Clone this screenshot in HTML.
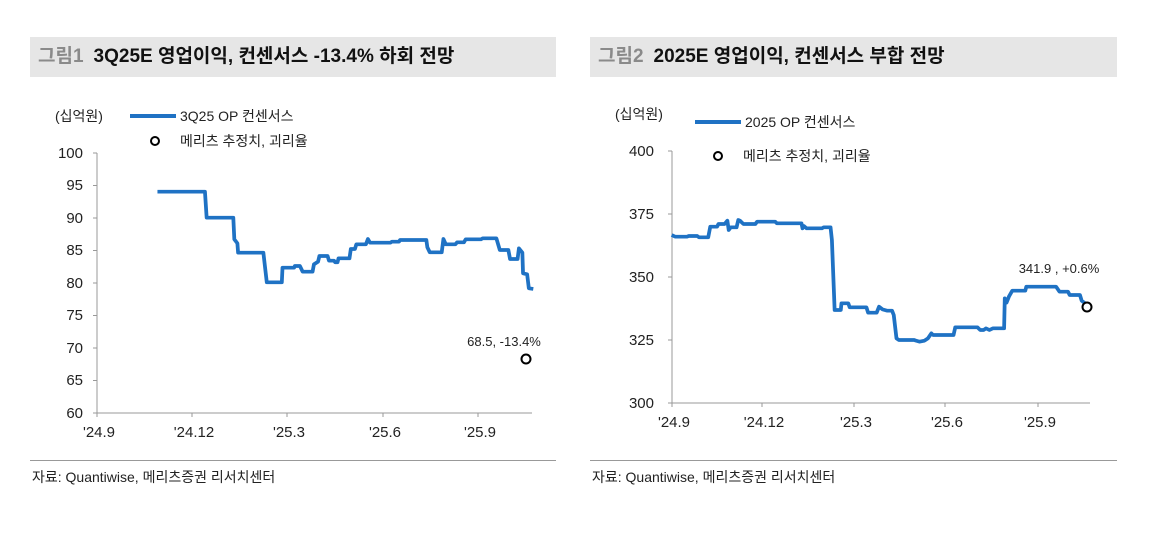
<!DOCTYPE html>
<html><head><meta charset="utf-8"><style>
html,body{margin:0;padding:0;background:#fff;}
body{width:1159px;height:557px;position:relative;overflow:hidden;font-family:"Liberation Sans","Noto Sans CJK KR",sans-serif;}
.hdr{position:absolute;top:37px;height:40px;background:#e6e6e6;font-size:19px;font-weight:bold;line-height:40px;color:#111;padding-left:8px;box-sizing:border-box;}
.hdr span{color:#8a8a8a;margin-right:10px;}
.src{position:absolute;top:467px;font-size:14px;color:#222;}
.rule{position:absolute;top:460px;height:1px;background:#999;}
svg text{font-family:"Liberation Sans","Noto Sans CJK KR",sans-serif;fill:#222;}
</style></head><body>
<div class="hdr" style="left:30px;width:526px;"><span>그림1</span>3Q25E 영업이익, 컨센서스 -13.4% 하회 전망</div>
<div class="hdr" style="left:590px;width:527px;"><span>그림2</span>2025E 영업이익, 컨센서스 부합 전망</div>
<div class="rule" style="left:30px;width:526px;"></div>
<div class="rule" style="left:590px;width:527px;"></div>
<div class="src" style="left:32px;">자료: Quantiwise, 메리츠증권 리서치센터</div>
<div class="src" style="left:592px;">자료: Quantiwise, 메리츠증권 리서치센터</div>
<svg width="1159" height="557" style="position:absolute;left:0;top:0">
<!-- left chart -->
<text x="55" y="121" font-size="14">(십억원)</text>
<line x1="130" y1="116" x2="176" y2="116" stroke="#1f72c4" stroke-width="4"/>
<text x="180" y="121" font-size="14">3Q25 OP 컨센서스</text>
<circle cx="155" cy="141" r="4" fill="none" stroke="#000" stroke-width="2"/>
<text x="180" y="146" font-size="14">메리츠 추정치, 괴리율</text>
<g stroke="#999" stroke-width="1">
<line x1="97" y1="153" x2="97" y2="413"/><line x1="97" y1="413" x2="532" y2="413"/>
<line x1="93" y1="153" x2="97" y2="153"/><line x1="93" y1="185.5" x2="97" y2="185.5"/><line x1="93" y1="218" x2="97" y2="218"/><line x1="93" y1="250.5" x2="97" y2="250.5"/><line x1="93" y1="283" x2="97" y2="283"/><line x1="93" y1="315.5" x2="97" y2="315.5"/><line x1="93" y1="348" x2="97" y2="348"/><line x1="93" y1="380.5" x2="97" y2="380.5"/><line x1="93" y1="413" x2="97" y2="413"/>
<line x1="97" y1="413" x2="97" y2="417"/><line x1="192" y1="413" x2="192" y2="417"/><line x1="287" y1="413" x2="287" y2="417"/><line x1="383" y1="413" x2="383" y2="417"/><line x1="478" y1="413" x2="478" y2="417"/>
</g>
<g font-size="15" text-anchor="end">
<text x="83" y="158">100</text><text x="83" y="190">95</text><text x="83" y="223">90</text><text x="83" y="255">85</text><text x="83" y="288">80</text><text x="83" y="320">75</text><text x="83" y="353">70</text><text x="83" y="385">65</text><text x="83" y="418">60</text>
</g>
<g font-size="15" text-anchor="middle">
<text x="99" y="437">'24.9</text><text x="194" y="437">'24.12</text><text x="289" y="437">'25.3</text><text x="385" y="437">'25.6</text><text x="480" y="437">'25.9</text>
</g>
<g transform="translate(28.3,140) scale(0.34167,0.33333)">
<polyline fill="none" stroke="#1f72c4" stroke-width="11" stroke-linejoin="round" points="378,155 517,155 522,233 600,233 603,298 612,310 614,338 688,338 698,427 742,427 744,383 778,383 780,378 795,378 803,395 832,395 836,373 848,365 852,348 876,348 880,362 895,362 898,367 905,367 908,355 940,355 944,327 956,327 960,313 988,313 994,297 1000,308 1060,308 1064,305 1085,305 1088,300 1165,300 1168,322 1175,337 1210,337 1215,297 1222,313 1250,313 1255,307 1275,307 1280,298 1325,298 1330,295 1370,295 1380,330 1405,330 1410,357 1432,357 1436,325 1446,338 1448,400 1460,403 1465,445 1478,447"/>
</g>
<text x="504" y="346" font-size="13" text-anchor="middle">68.5, -13.4%</text>
<circle cx="526" cy="359" r="4.5" fill="#fff" stroke="#000" stroke-width="2"/>

<!-- right chart -->
<text x="615" y="119" font-size="14">(십억원)</text>
<line x1="695" y1="122" x2="741" y2="122" stroke="#1f72c4" stroke-width="4"/>
<text x="745" y="127" font-size="14">2025 OP 컨센서스</text>
<circle cx="718" cy="156" r="4" fill="none" stroke="#000" stroke-width="2"/>
<text x="743" y="161" font-size="14">메리츠 추정치, 괴리율</text>
<g stroke="#999" stroke-width="1">
<line x1="672" y1="151" x2="672" y2="403"/><line x1="672" y1="403" x2="1090" y2="403"/>
<line x1="668" y1="151" x2="672" y2="151"/><line x1="668" y1="214" x2="672" y2="214"/><line x1="668" y1="277" x2="672" y2="277"/><line x1="668" y1="340" x2="672" y2="340"/><line x1="668" y1="403" x2="672" y2="403"/>
<line x1="672" y1="403" x2="672" y2="407"/><line x1="762" y1="403" x2="762" y2="407"/><line x1="854" y1="403" x2="854" y2="407"/><line x1="945" y1="403" x2="945" y2="407"/><line x1="1038" y1="403" x2="1038" y2="407"/>
</g>
<g font-size="15" text-anchor="end">
<text x="654" y="156">400</text><text x="654" y="219">375</text><text x="654" y="282">350</text><text x="654" y="345">325</text><text x="654" y="408">300</text>
</g>
<g font-size="15" text-anchor="middle">
<text x="674" y="427">'24.9</text><text x="764" y="427">'24.12</text><text x="856" y="427">'25.3</text><text x="947" y="427">'25.6</text><text x="1040" y="427">'25.9</text>
</g>
<g transform="translate(587.95,140) scale(0.34167,0.33333)">
<polyline fill="none" stroke="#1f72c4" stroke-width="11" stroke-linejoin="round" points="245,285 255,290 290,290 295,288 320,288 325,292 352,292 358,260 378,260 382,252 400,252 408,242 412,270 418,262 435,262 440,240 445,242 455,252 490,252 495,245 548,245 553,250 625,250 628,265 632,258 640,265 685,265 690,262 710,262 714,300 722,510 740,510 742,490 762,490 766,502 815,502 820,518 845,518 852,500 862,508 875,512 890,512 895,525 903,595 910,600 955,600 960,602 970,605 985,602 995,595 1005,580 1010,585 1070,585 1075,562 1140,562 1148,570 1158,570 1165,565 1175,570 1185,565 1218,565 1220,475 1225,488 1232,470 1242,452 1280,452 1283,440 1370,440 1380,455 1405,455 1410,465 1440,465 1445,482 1455,490"/>
</g>
<text x="1059" y="273" font-size="13" text-anchor="middle">341.9 , +0.6%</text>
<circle cx="1087" cy="307" r="4.5" fill="#fff" stroke="#000" stroke-width="2"/>
</svg>
</body></html>
